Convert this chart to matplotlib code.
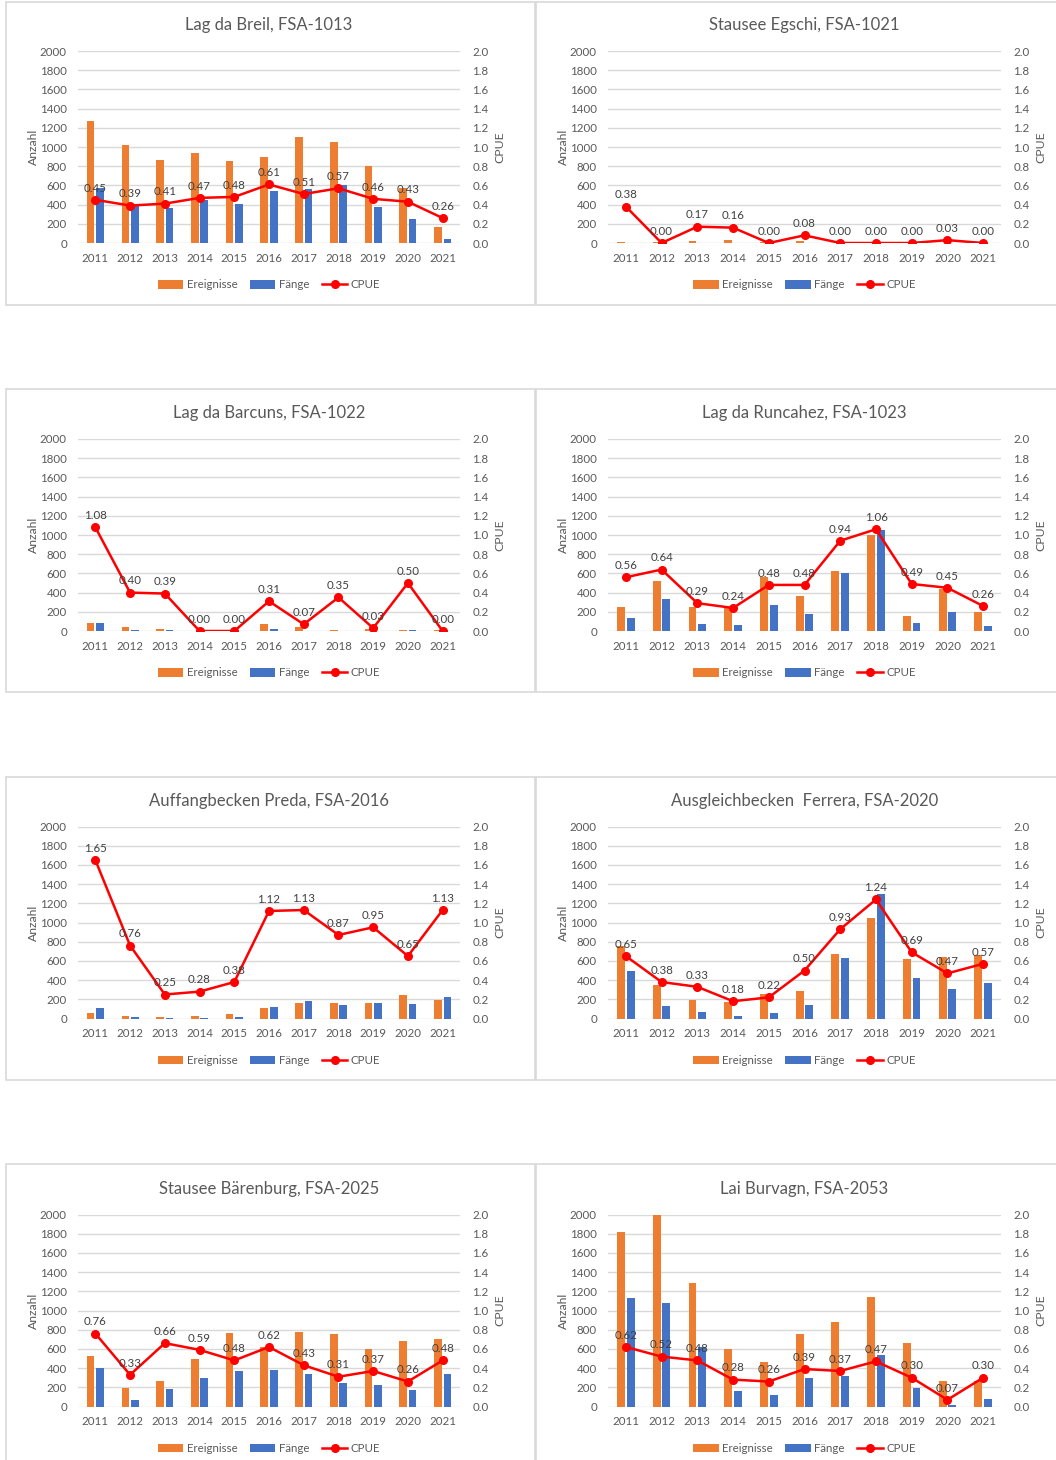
import matplotlib
matplotlib.use('Agg')
import matplotlib.pyplot as plt
import numpy as np
from matplotlib.patches import Patch, Rectangle
from matplotlib.lines import Line2D

years = ['2011', '2012', '2013', '2014', '2015', '2016', '2017', '2018', '2019', '2020', '2021']

titles = ['Lag da Breil, FSA-1013', 'Stausee Egschi, FSA-1021',
          'Lag da Barcuns, FSA-1022', 'Lag da Runcahez, FSA-1023',
          'Auffangbecken Preda, FSA-2016', 'Ausgleichbecken  Ferrera, FSA-2020',
          'Stausee Bärenburg, FSA-2025', 'Lai Burvagn, FSA-2053']

breil_ereignisse = [1275, 1020, 860, 935, 855, 900, 1105, 1055, 805, 575, 165]
breil_faenge = [575, 395, 360, 445, 410, 545, 565, 600, 370, 245, 45]
breil_cpue = [0.45, 0.39, 0.41, 0.47, 0.48, 0.61, 0.51, 0.57, 0.46, 0.43, 0.26]

egschi_ereignisse = [8, 13, 25, 30, 12, 22, 3, 2, 2, 5, 2]
egschi_faenge = [3, 0, 4, 5, 0, 2, 0, 0, 0, 0, 0]
egschi_cpue = [0.38, 0.00, 0.17, 0.16, 0.00, 0.08, 0.00, 0.00, 0.00, 0.03, 0.00]

barcuns_ereignisse = [80, 38, 25, 2, 10, 75, 40, 10, 25, 15, 15]
barcuns_faenge = [85, 15, 10, 0, 0, 20, 3, 3, 1, 8, 0]
barcuns_cpue = [1.08, 0.40, 0.39, 0.00, 0.00, 0.31, 0.07, 0.35, 0.03, 0.50, 0.00]

runcahez_ereignisse = [255, 520, 248, 245, 565, 365, 630, 1000, 160, 435, 200]
runcahez_faenge = [140, 335, 72, 60, 275, 175, 600, 1055, 80, 195, 52]
runcahez_cpue = [0.56, 0.64, 0.29, 0.24, 0.48, 0.48, 0.94, 1.06, 0.49, 0.45, 0.26]

preda_ereignisse = [60, 25, 15, 25, 45, 110, 160, 165, 165, 240, 195]
preda_faenge = [110, 18, 3, 5, 18, 125, 178, 145, 160, 155, 225]
preda_cpue = [1.65, 0.76, 0.25, 0.28, 0.38, 1.12, 1.13, 0.87, 0.95, 0.65, 1.13]

ferrera_ereignisse = [760, 345, 190, 170, 255, 290, 670, 1045, 620, 640, 660]
ferrera_faenge = [490, 130, 65, 30, 55, 145, 630, 1295, 425, 305, 375]
ferrera_cpue = [0.65, 0.38, 0.33, 0.18, 0.22, 0.50, 0.93, 1.24, 0.69, 0.47, 0.57]

baerenburg_ereignisse = [525, 190, 270, 500, 765, 620, 775, 760, 600, 680, 700]
baerenburg_faenge = [400, 65, 180, 295, 365, 385, 335, 240, 225, 170, 340]
baerenburg_cpue = [0.76, 0.33, 0.66, 0.59, 0.48, 0.62, 0.43, 0.31, 0.37, 0.26, 0.48]

burvagn_ereignisse = [1820, 2000, 1285, 600, 460, 755, 880, 1145, 660, 270, 270]
burvagn_faenge = [1130, 1080, 620, 165, 120, 295, 320, 535, 195, 20, 75]
burvagn_cpue = [0.62, 0.52, 0.48, 0.28, 0.26, 0.39, 0.37, 0.47, 0.30, 0.07, 0.30]

panels = [
    (breil_ereignisse, breil_faenge, breil_cpue),
    (egschi_ereignisse, egschi_faenge, egschi_cpue),
    (barcuns_ereignisse, barcuns_faenge, barcuns_cpue),
    (runcahez_ereignisse, runcahez_faenge, runcahez_cpue),
    (preda_ereignisse, preda_faenge, preda_cpue),
    (ferrera_ereignisse, ferrera_faenge, ferrera_cpue),
    (baerenburg_ereignisse, baerenburg_faenge, baerenburg_cpue),
    (burvagn_ereignisse, burvagn_faenge, burvagn_cpue),
]

plt.rcParams['font.family'] = ['Lato', 'DejaVu Sans']

ORANGE = '#ED7D31'
BLUE = '#4472C4'
RED = '#FF0000'
GRID = '#D9D9D9'
TXT = '#595959'
LBL = '#404040'

W, H = 1056, 1460
fig = plt.figure(figsize=(W / 100, H / 100), dpi=100)

col_axes = [(78, 460), (608, 1001)]
row_y0 = [243, 631, 1018.5, 1406.5]
ax_h = 192
col_box = [(6, 535), (536, 1062)]
row_box = [(2, 305), (389, 692), (777, 1080), (1164, 1475)]

FS = 8.3

for i, (ereig, faenge, cpue) in enumerate(panels):
    r, c = divmod(i, 2)
    bx0, bx1 = col_box[c]
    by0, by1 = row_box[r]
    fig.patches.append(Rectangle((bx0 / W, 1 - by1 / H), (bx1 - bx0) / W, (by1 - by0) / H,
                                 transform=fig.transFigure, fill=False,
                                 edgecolor=GRID, lw=1.2))
    x0, x1 = col_axes[c]
    y0 = row_y0[r]
    ax = fig.add_axes([x0 / W, 1 - y0 / H, (x1 - x0) / W, ax_h / H])
    xw = x1 - x0
    x = np.arange(len(years))
    ax.set_axisbelow(True)
    ax.bar(x - 0.135, ereig, width=0.22, color=ORANGE, zorder=2)
    ax.bar(x + 0.135, faenge, width=0.22, color=BLUE, zorder=2)
    ax.set_xlim(-0.5, len(years) - 0.5)
    ax.set_ylim(0, 2000)
    ax.set_yticks(np.arange(0, 2001, 200))
    ax.set_xticks(x)
    ax.set_xticklabels(years)
    ax.yaxis.grid(True, color=GRID, lw=1)
    for s in ax.spines.values():
        s.set_visible(False)
    ax.tick_params(axis='both', length=0, labelsize=FS, labelcolor=TXT)
    ax.tick_params(axis='y', pad=8)
    ax.tick_params(axis='x', pad=7)
    ax.set_ylabel('Anzahl', fontsize=FS + 0.5, color=TXT)
    ax.yaxis.set_label_coords(-39 / xw, 0.5)
    ax.set_title(titles[i], fontsize=12, color=TXT, pad=15)

    ax2 = ax.twinx()
    ax2.set_ylim(0, 2.0)
    ax2.set_yticks(np.arange(0, 2.01, 0.2))
    ax2.set_yticklabels([f'{v:.1f}' for v in np.arange(0, 2.01, 0.2)])
    for s in ax2.spines.values():
        s.set_visible(False)
    ax2.tick_params(axis='y', length=0, labelsize=FS, labelcolor=TXT, pad=9)
    ax2.set_ylabel('CPUE', fontsize=FS + 0.5, color=TXT)
    ax2.yaxis.set_label_coords(1 + 34 / xw, 0.5)
    ax2.plot(x, cpue, color=RED, lw=1.8, marker='o', ms=5.5, zorder=3)
    for xi, v in zip(x, cpue):
        ax2.annotate(f'{v:.2f}', (xi, v), xytext=(0, 4.5), textcoords='offset points',
                     ha='center', va='bottom', fontsize=FS, color=LBL)

    handles = [Patch(facecolor=ORANGE, edgecolor='none'),
               Patch(facecolor=BLUE, edgecolor='none'),
               Line2D([0], [0], color=RED, lw=1.8, marker='o', ms=5.5)]
    ax2.legend(handles, ['Ereignisse', 'Fänge', 'CPUE'], loc='center',
               bbox_to_anchor=(0.5, -42 / ax_h), ncol=3, frameon=False,
               fontsize=FS, handlelength=2.2, handleheight=0.7,
               columnspacing=1.1, handletextpad=0.3, labelcolor=TXT)

fig.savefig('out.png', dpi=100, facecolor='white')
